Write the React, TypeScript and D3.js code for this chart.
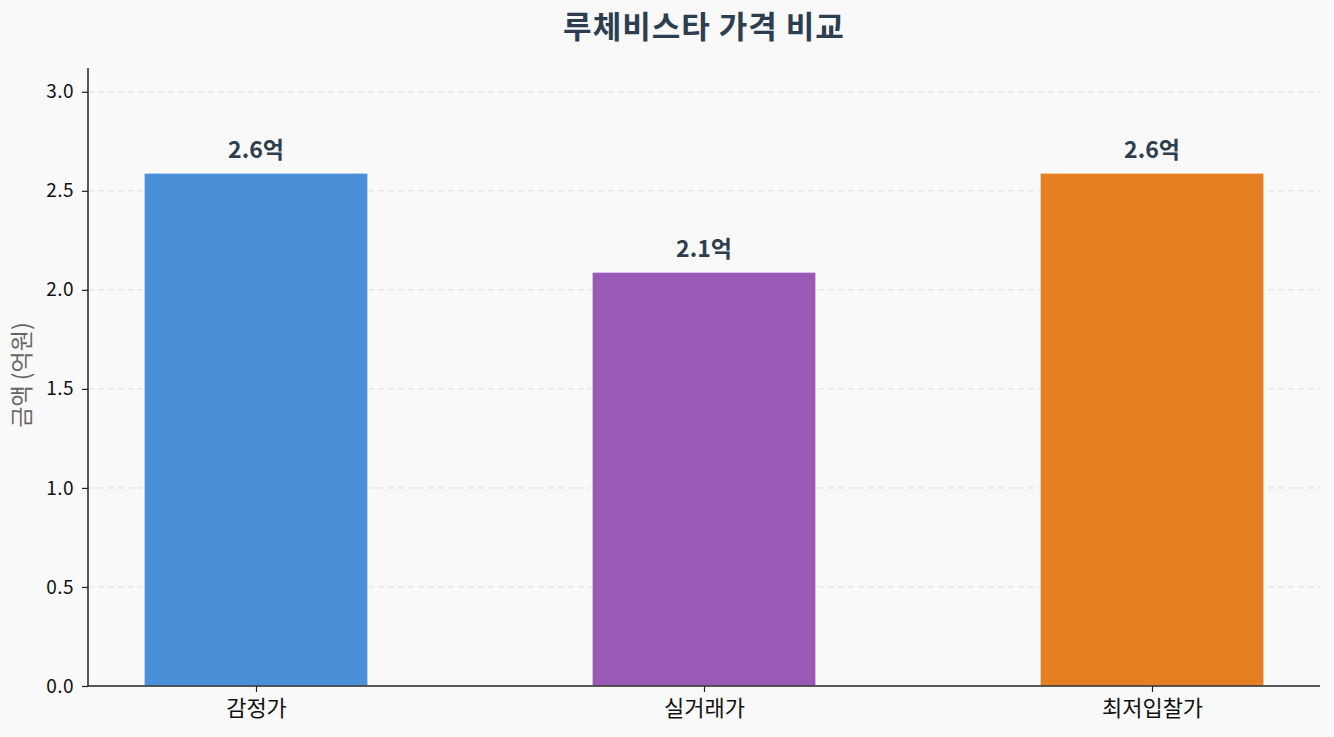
import React, { useRef, useEffect } from 'react';
import * as d3 from 'd3';

const CATEGORIES = ['감정가', '실거래가', '최저입찰가'];
const VALUES = [2.59, 2.09, 2.59];
const VALUE_LABELS = ['2.6억', '2.1억', '2.6억'];
const BAR_COLORS = ['#4a90d9', '#9b59b6', '#e67e22'];
const Y_TICKS = [0, 0.5, 1.0, 1.5, 2.0, 2.5, 3.0];
const Y_MAX = 3.12;

const TITLE = '루체비스타 가격 비교';
const Y_LABEL = '금액 (억원)';

const WIDTH = 1334;
const HEIGHT = 737;
const FONT = '"Noto Sans CJK KR", "Noto Sans", sans-serif';
const TEXT_DARK = '#2c3e50';

const App: React.FC = () => {
  const svgRef = useRef<SVGSVGElement>(null);

  useEffect(() => {
    const svgElement = svgRef.current;
    if (!svgElement) return;

    const svg = d3.select(svgElement);
    svg.selectAll('*').remove();

    const margin = { top: 68, right: 14, bottom: 51, left: 88 };
    const plotWidth = WIDTH - margin.left - margin.right;
    const plotHeight = HEIGHT - margin.top - margin.bottom;

    svg.append('rect').attr('width', WIDTH).attr('height', HEIGHT).attr('fill', '#f9f9f9');

    const g = svg.append('g').attr('transform', `translate(${margin.left},${margin.top})`);

    // categorical x in data units, matplotlib-style margins
    const n = CATEGORIES.length;
    const barWidth = 0.5;
    const xPad = 0.05 * (n - 1 + barWidth);
    const xScale = d3.scaleLinear()
      .domain([-barWidth / 2 - xPad, n - 1 + barWidth / 2 + xPad])
      .range([0, plotWidth]);

    const yScale = d3.scaleLinear().domain([0, Y_MAX]).range([plotHeight, 0]);

    // Grid
    g.append('g')
      .selectAll('line')
      .data(Y_TICKS.filter(t => t > 0))
      .join('line')
      .attr('x1', 0).attr('x2', plotWidth)
      .attr('y1', d => yScale(d)).attr('y2', d => yScale(d))
      .attr('stroke', '#dedede').attr('stroke-width', 1)
      .attr('stroke-dasharray', '6,4');

    // Bars
    g.append('g')
      .selectAll('rect')
      .data(VALUES)
      .join('rect')
      .attr('x', (_, i) => xScale(i - barWidth / 2))
      .attr('width', (_, i) => xScale(i + barWidth / 2) - xScale(i - barWidth / 2))
      .attr('y', d => yScale(d))
      .attr('height', d => plotHeight - yScale(d))
      .attr('fill', (_, i) => BAR_COLORS[i])
      .attr('stroke', '#ffffff').attr('stroke-width', 1.2);

    // Value labels
    g.append('g')
      .selectAll('text')
      .data(VALUES)
      .join('text')
      .attr('x', (_, i) => xScale(i))
      .attr('y', d => yScale(d) - 15)
      .attr('text-anchor', 'middle')
      .attr('font-family', FONT)
      .attr('font-size', '23px').attr('font-weight', 'bold')
      .attr('fill', TEXT_DARK)
      .text((_, i) => VALUE_LABELS[i]);

    // Y axis
    g.append('g')
      .call(d3.axisLeft(yScale).tickValues(Y_TICKS).tickFormat(d3.format('.1f')).tickSize(6).tickPadding(8))
      .call(a => a.select('.domain').attr('stroke', '#222').attr('stroke-width', 1.5).attr('d', `M0,${plotHeight}V0`))
      .call(a => a.selectAll('line').attr('stroke', '#222').attr('stroke-width', 1.2))
      .call(a => a.selectAll('text').attr('fill', '#111').attr('font-size', '19px').attr('font-family', FONT).attr('letter-spacing', '0.5px'));

    // X axis
    g.append('g')
      .attr('transform', `translate(0,${plotHeight})`)
      .call(d3.axisBottom(xScale).tickValues(d3.range(n)).tickFormat(i => CATEGORIES[i as number]).tickSize(6).tickPadding(8))
      .call(a => a.select('.domain').attr('stroke', '#222').attr('stroke-width', 1.5).attr('d', `M0,0H${plotWidth}`))
      .call(a => a.selectAll('line').attr('stroke', '#222').attr('stroke-width', 1.2))
      .call(a => a.selectAll('text').attr('fill', '#111').attr('font-size', '22px').attr('font-family', FONT));

    // Y label
    g.append('text')
      .attr('transform', 'rotate(-90)')
      .attr('x', -plotHeight / 2 + 2).attr('y', -58)
      .attr('text-anchor', 'middle')
      .attr('font-family', FONT).attr('font-size', '23px')
      .attr('fill', '#666')
      .text(Y_LABEL);

    // Title
    svg.append('text')
      .attr('x', margin.left + plotWidth / 2).attr('y', 38)
      .attr('text-anchor', 'middle')
      .attr('font-family', FONT)
      .attr('font-size', '31px').attr('font-weight', 'bold')
      .attr('letter-spacing', '1px')
      .attr('fill', TEXT_DARK)
      .text(TITLE);
  }, []);

  return (
    <svg
      ref={svgRef}
      width={WIDTH}
      height={HEIGHT}
      style={{ position: 'fixed', top: 0, left: 0, display: 'block' }}
    />
  );
};

export default App;
